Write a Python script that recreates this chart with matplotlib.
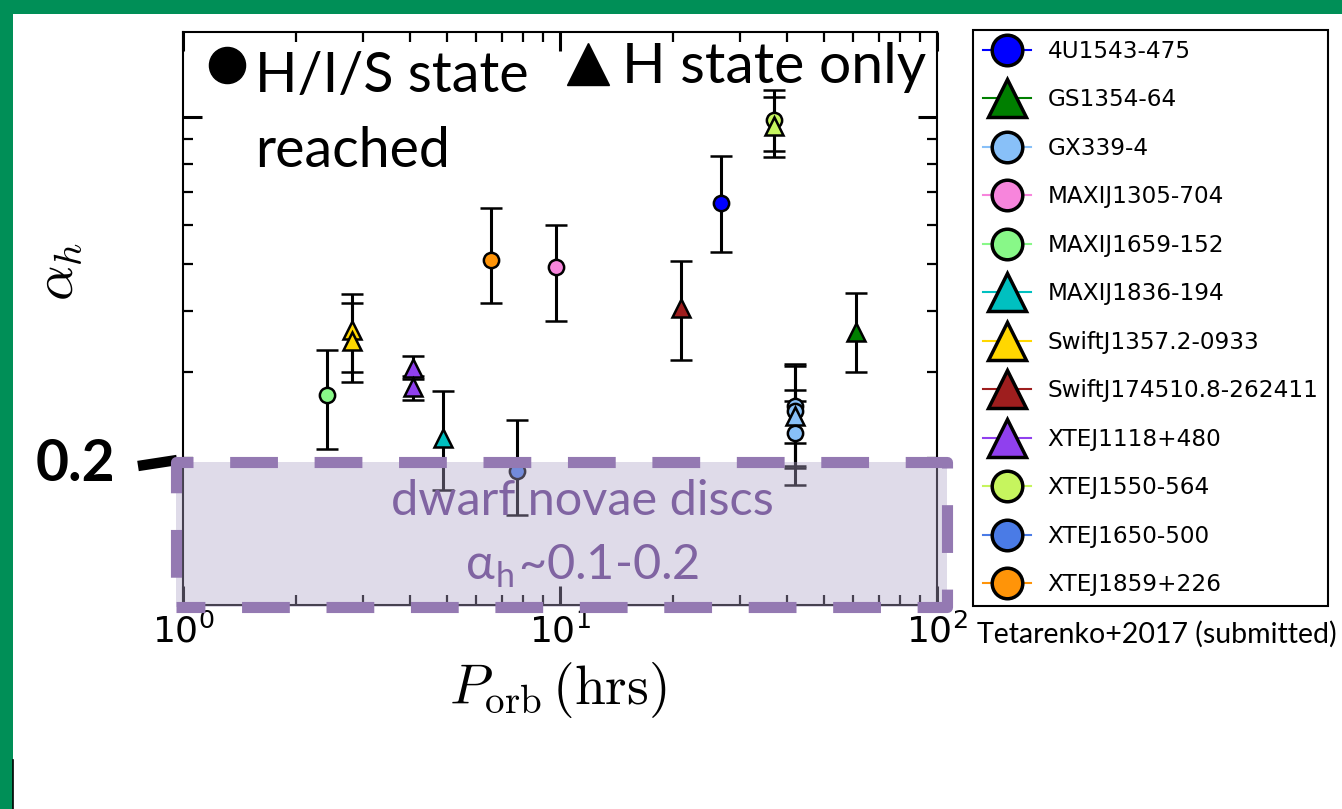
import numpy as np
import matplotlib
matplotlib.use('Agg')
import matplotlib.pyplot as plt
from matplotlib.lines import Line2D
from matplotlib.patches import Rectangle

# --- donnees ---
names = ['4U1543-475', 'GS1354-64', 'GX339-4', 'MAXIJ1305-704', 'MAXIJ1659-152',
         'MAXIJ1836-194', 'SwiftJ1357.2-0933', 'SwiftJ174510.8-262411',
         'XTEJ1118+480', 'XTEJ1550-564', 'XTEJ1650-500', 'XTEJ1859+226']
colors = ['#0000ff', '#007f00', '#88c0f8', '#f785dc', '#88f888', '#00c0c0',
          '#ffd700', '#9e1e1e', '#9040ee', '#c6f55e', '#4a7be6', '#ff9408']
legend_markers = ['o', '^', 'o', 'o', 'o', '^', '^', '^', '^', 'o', 'o', 'o']

# un point par outburst : source, P_orb (h), alpha_h, borne haute, borne basse, symbole
pt_source = ['MAXIJ1659-152', 'SwiftJ1357.2-0933', 'SwiftJ1357.2-0933',
             'XTEJ1118+480', 'XTEJ1118+480', 'MAXIJ1836-194', 'XTEJ1650-500',
             'XTEJ1859+226', 'MAXIJ1305-704', 'SwiftJ174510.8-262411', '4U1543-475',
             'XTEJ1550-564', 'XTEJ1550-564', 'GX339-4', 'GX339-4', 'GX339-4',
             'GX339-4', 'GS1354-64']
pt_period = [2.41, 2.8, 2.8, 4.08, 4.08, 4.9, 7.69, 6.58, 9.74, 21.0, 26.8,
             37.0, 37.0, 42.1, 42.1, 42.1, 42.1, 61.1]
pt_alpha = [0.269, 0.365, 0.347, 0.305, 0.279, 0.220, 0.188, 0.509, 0.493, 0.405,
            0.665, 0.986, 0.958, 0.255, 0.250, 0.244, 0.225, 0.363]
pt_upper = [0.332, 0.434, 0.416, 0.324, 0.295, 0.274, 0.239, 0.650, 0.600, 0.507,
            0.829, 1.135, 1.098, 0.312, 0.309, 0.275, 0.262, 0.436]
pt_lower = [0.209, 0.300, 0.286, 0.290, 0.263, 0.172, 0.153, 0.416, 0.382, 0.317,
            0.528, 0.849, 0.825, 0.191, 0.176, 0.215, 0.193, 0.300]
pt_marker = ['o', '^', '^', '^', '^', '^', 'o', 'o', 'o', '^', 'o',
             'o', '^', 'o', 'o', '^', 'o', '^']

W, H = 1342, 809
def fx(x): return x / W
def fy(y): return 1 - y / H

plt.rcParams['mathtext.fontset'] = 'cm'
calib = ['Lato', 'DejaVu Sans']

fig = plt.figure(figsize=(W / 100, H / 100), dpi=100)
ax = fig.add_axes([fx(183), fy(605), fx(937) - fx(183), fy(32) - fy(605)])
ax.set_xscale('log'); ax.set_yscale('log')
ax.set_xlim(1, 100); ax.set_ylim(0.1, 1.49)

col = dict(zip(names, colors))
for s, p, a, hi, lo, m in zip(pt_source, pt_period, pt_alpha, pt_upper, pt_lower, pt_marker):
    ax.errorbar([p], [a], yerr=[[a - lo], [hi - a]], fmt=m, ms=11 if m == 'o' else 13,
                mfc=col[s], mec='k', mew=1.8, ecolor='k', elinewidth=2.2,
                capsize=8, capthick=1.1, zorder=3)

# ticks
ax.yaxis.set_major_locator(matplotlib.ticker.FixedLocator([1.0]))
ax.yaxis.set_minor_locator(matplotlib.ticker.FixedLocator([0.2, 0.3, 0.4, 0.5, 0.6, 0.7, 0.8, 0.9]))
ax.yaxis.set_minor_formatter(matplotlib.ticker.NullFormatter())
ax.tick_params(which='both', direction='in', top=True, right=True, labelleft=False)
ax.tick_params(which='major', length=14, width=2.2, labelsize=26, pad=6)
ax.tick_params(which='minor', length=7, width=1.6)
for sp in ax.spines.values():
    sp.set_linewidth(1.5)

# legende des sources
handles = [Line2D([], [], color=c, lw=1.5, marker=m, ms=22 if m == 'o' else 27,
                  mfc=c, mec='k', mew=2.5) for c, m in zip(colors, legend_markers)]
leg = ax.legend(handles, names, loc='upper left', bbox_to_anchor=(fx(973), fy(30)),
                bbox_transform=fig.transFigure, borderaxespad=0, fancybox=False,
                edgecolor='k', framealpha=1, fontsize=16.7, labelspacing=1.1,
                handlelength=2.1, handletextpad=0.7, borderpad=0.42)
leg.get_frame().set_linewidth(1.5)

# labels
fig.text(fx(558), fy(690), r'$P_{\rm orb}\,({\rm hrs})$', fontsize=40, ha='center', va='center')
fig.text(fx(58), fy(272), r'$\alpha_h$', fontsize=40, ha='center', va='center', rotation=90)

# annotations type diapo
fig.add_artist(Line2D([fx(227)], [fy(65)], marker='o', ms=26, color='k', transform=fig.transFigure))
fig.text(fx(255), fy(92), 'H/I/S state', fontsize=40, family=calib, ha='left', va='baseline')
fig.text(fx(255), fy(167), 'reached', fontsize=40, family=calib, ha='left', va='baseline')
fig.add_artist(Line2D([fx(588)], [fy(64)], marker='^', ms=30, color='k', transform=fig.transFigure))
fig.text(fx(622), fy(83), 'H state only', fontsize=41, family=calib, ha='left', va='baseline')

# zone naines novae
fig.add_artist(Rectangle((fx(176), fy(607)), fx(947) - fx(176), fy(462) - fy(607),
                         transform=fig.transFigure, facecolor='#b1a5ca', alpha=0.4,
                         edgecolor='none', zorder=5))
fig.add_artist(Rectangle((fx(176), fy(607)), fx(947) - fx(176), fy(462) - fy(607),
                         transform=fig.transFigure, facecolor='none', edgecolor='#9479b2',
                         lw=8, linestyle=(1.7, (4.3, 3.3)), joinstyle='round', zorder=6))
fig.text(fx(582), fy(515), 'dwarf novae discs', fontsize=35, family=calib,
         color='#8064a2', ha='center', va='baseline', zorder=7)
fig.text(fx(582), fy(580), r'α$_\mathregular{h}$~0.1-0.2', fontsize=35, family=calib,
         color='#8064a2', ha='center', va='baseline', zorder=7)

fig.text(fx(115), fy(481), '0.2', fontsize=41, family=calib, weight='bold',
         ha='right', va='baseline')
fig.add_artist(Line2D([fx(138), fx(177)], [fy(466), fy(460)], lw=7.5, color='k',
                      solid_capstyle='butt', transform=fig.transFigure))

fig.text(fx(977), fy(643), 'Tetarenko+2017 (submitted)', fontsize=20.5, family=calib,
         ha='left', va='baseline')

# cadre vert
green = '#008f57'
fig.add_artist(Rectangle((0, fy(14)), 1, fy(0) - fy(14), transform=fig.transFigure,
                         facecolor=green, edgecolor='none', zorder=10))
fig.add_artist(Rectangle((0, 0), fx(13), 1, transform=fig.transFigure,
                         facecolor=green, edgecolor='none', zorder=10))
fig.add_artist(Line2D([fx(12.5), fx(12.5)], [fy(760), 0], lw=1.2, color='k',
                      transform=fig.transFigure, zorder=11))

fig.savefig('out.png', dpi=100)
